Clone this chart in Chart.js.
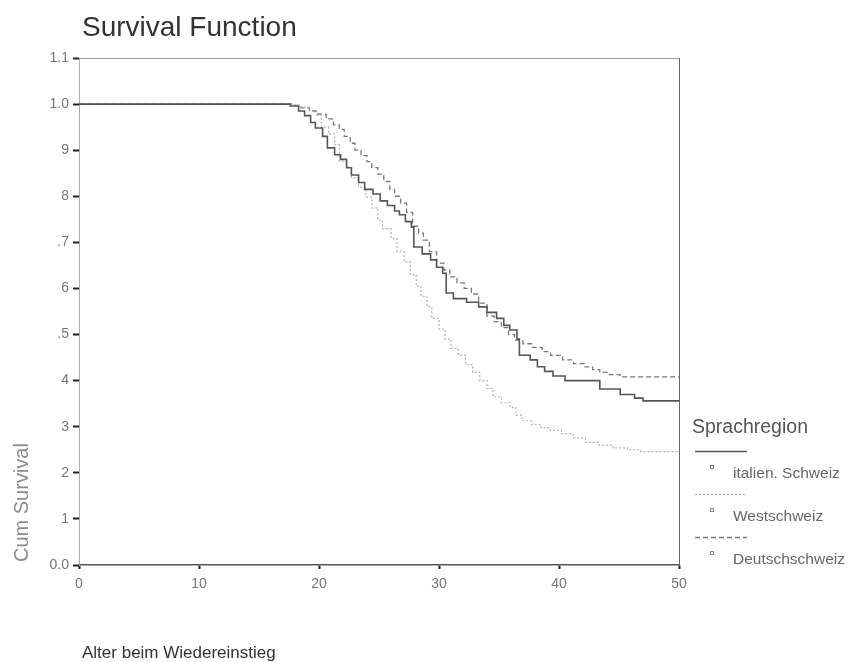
<!DOCTYPE html>
<html lang="de">
<head>
    <meta charset="UTF-8">
    <title>Survival Function</title>
    <style>
        body {
            margin: 0;
            padding: 0;
            background-color: #ffffff;
            font-family: "Liberation Sans", Arial, sans-serif;
        }
        #wrap {
            width: 850px;
            height: 662px;
        }
    </style>
    <script src="https://cdn.jsdelivr.net/npm/chart.js"></script>
</head>
<body>
    <div id="wrap">
        <canvas id="survivalChart" width="850" height="662"></canvas>
    </div>

    <script>
        // y tick labels as printed on the reference
        const yTickLabels = ['0.0', '1', '2', '3', '4', '.5', '6', '.7', '8', '9', '1.0', '1.1'];
        const xTickValues = [0, 10, 20, 30, 40, 50];

        // italien. Schweiz
        const italAge = [0, 17.6, 18.3, 18.8, 19.3, 19.7, 20.3, 20.7, 21.3, 21.8, 22.3, 22.7, 23.3, 23.8, 24.5, 25.1,
            25.7, 26.3, 26.7, 27.2, 27.7, 27.9, 28.6, 29.3, 29.8, 30.3, 30.6, 31.2, 32.3, 33.3, 34.0, 34.8, 35.4,
            35.9, 36.5, 36.7, 37.6, 38.2, 38.8, 39.5, 40.5, 43.4, 45.1, 46.3, 47.0, 50];
        const italSurv = [1.0, 0.996, 0.985, 0.975, 0.96, 0.948, 0.93, 0.905, 0.89, 0.88, 0.862, 0.846, 0.83, 0.815, 0.805, 0.79,
            0.78, 0.768, 0.76, 0.745, 0.733, 0.69, 0.675, 0.662, 0.646, 0.633, 0.59, 0.578, 0.57, 0.56, 0.548, 0.535, 0.52,
            0.51, 0.49, 0.455, 0.445, 0.43, 0.42, 0.41, 0.40, 0.382, 0.37, 0.362, 0.356, 0.356];

        // Westschweiz
        const westAge = [0, 17.8, 18.5, 19.2, 19.8, 20.2, 20.8, 21.3, 21.7, 22.3, 22.7, 23.3, 23.9, 24.4, 24.9, 25.3,
            26.0, 26.5, 27.1, 27.6, 28.1, 28.5, 29.0, 29.4, 30.0, 30.5, 31.0, 31.6, 32.2, 32.8, 33.4, 34.0, 34.5,
            35.2, 35.9, 36.4, 36.9, 37.7, 38.5, 39.3, 40.2, 41.2, 42.2, 43.3, 44.5, 45.7, 46.8, 50];
        const westSurv = [1.0, 0.998, 0.993, 0.985, 0.976, 0.95, 0.935, 0.912, 0.876, 0.863, 0.84, 0.82, 0.798, 0.775, 0.748, 0.73,
            0.708, 0.68, 0.658, 0.63, 0.605, 0.583, 0.56, 0.535, 0.512, 0.49, 0.47, 0.455, 0.435, 0.418, 0.40, 0.383, 0.365,
            0.352, 0.342, 0.325, 0.313, 0.305, 0.298, 0.292, 0.285, 0.276, 0.266, 0.26, 0.254, 0.25, 0.246, 0.246];

        // Deutschschweiz
        const deutAge = [0, 17.8, 18.5, 19.2, 19.9, 20.6, 21.2, 21.7, 22.1, 22.6, 23.0, 23.5, 24.0, 24.4, 24.9, 25.4,
            25.9, 26.3, 26.8, 27.3, 27.8, 28.3, 28.7, 29.2, 29.8, 30.4, 30.9, 31.5, 32.1, 32.7, 33.3, 34.0, 34.6,
            35.2, 35.8, 36.3, 37.0, 37.8, 38.6, 39.3, 40.3, 41.2, 42.1, 42.8, 43.4, 44.2, 45.1, 50];
        const deutSurv = [1.0, 0.997, 0.992, 0.985, 0.978, 0.968, 0.955, 0.945, 0.93, 0.915, 0.90, 0.888, 0.875, 0.862, 0.848, 0.832,
            0.815, 0.80, 0.785, 0.765, 0.735, 0.72, 0.705, 0.68, 0.655, 0.64, 0.625, 0.612, 0.60, 0.588, 0.568, 0.54, 0.528,
            0.515, 0.50, 0.488, 0.48, 0.472, 0.463, 0.455, 0.445, 0.437, 0.43, 0.424, 0.418, 0.413, 0.408, 0.408];

        function toPoints(xs, ys) {
            return xs.map((x, i) => ({ x: x, y: ys[i] }));
        }

        const FONT = '"Liberation Sans", Arial, sans-serif';

        const series = [
            { label: 'italien. Schweiz', color: '#555555', width: 1.6, dash: [] },
            { label: 'Westschweiz', color: '#b0b0b0', width: 1.2, dash: [2, 2] },
            { label: 'Deutschschweiz', color: '#7a7a7a', width: 1.3, dash: [5, 3] }
        ];

        // titles, frame and the right-hand legend
        const decorations = {
            id: 'decorations',
            afterDraw(chart) {
                const ctx = chart.ctx;
                const area = chart.chartArea;
                ctx.save();

                // frame top + right
                ctx.strokeStyle = '#999999';
                ctx.lineWidth = 1;
                ctx.beginPath();
                ctx.moveTo(area.left, area.top + 0.5);
                ctx.lineTo(area.right, area.top + 0.5);
                ctx.stroke();
                ctx.strokeStyle = '#666666';
                ctx.beginPath();
                ctx.moveTo(area.right + 0.5, area.top);
                ctx.lineTo(area.right + 0.5, area.bottom);
                ctx.stroke();

                // main title
                ctx.fillStyle = '#333333';
                ctx.font = '28px ' + FONT;
                ctx.textAlign = 'left';
                ctx.textBaseline = 'middle';
                ctx.fillText('Survival Function', 82, 28);

                // x axis title
                ctx.font = '17px ' + FONT;
                ctx.fillStyle = '#333333';
                ctx.fillText('Alter beim Wiedereinstieg', 82, 653);

                // y axis title (rotated, bottom aligned)
                ctx.save();
                ctx.translate(22, 562);
                ctx.rotate(-Math.PI / 2);
                ctx.font = '20px ' + FONT;
                ctx.fillStyle = '#8c8c8c';
                ctx.textAlign = 'left';
                ctx.fillText('Cum Survival', 0, 0);
                ctx.restore();

                // legend
                ctx.font = '19.5px ' + FONT;
                ctx.fillStyle = '#555555';
                ctx.fillText('Sprachregion', 692, 428);

                const rows = [451, 494, 537];
                series.forEach((s, i) => {
                    const y = rows[i];
                    ctx.strokeStyle = s.color;
                    ctx.lineWidth = s.width;
                    ctx.setLineDash(s.dash);
                    ctx.beginPath();
                    ctx.moveTo(695, y + 0.5);
                    ctx.lineTo(747, y + 0.5);
                    ctx.stroke();
                    ctx.setLineDash([]);

                    ctx.strokeStyle = '#888888';
                    ctx.lineWidth = 1;
                    ctx.strokeRect(710.5, y + 14.5, 3, 3);

                    ctx.font = '15.5px ' + FONT;
                    ctx.fillStyle = '#666666';
                    ctx.fillText(s.label, 733, y + 23);
                });

                ctx.restore();
            }
        };

        const ctx = document.getElementById('survivalChart').getContext('2d');
        new Chart(ctx, {
            type: 'line',
            data: {
                datasets: [
                    { label: series[0].label, data: toPoints(italAge, italSurv) },
                    { label: series[1].label, data: toPoints(westAge, westSurv) },
                    { label: series[2].label, data: toPoints(deutAge, deutSurv) }
                ].map((d, i) => Object.assign(d, {
                    borderColor: series[i].color,
                    borderWidth: series[i].width,
                    borderDash: series[i].dash,
                    stepped: true,
                    pointRadius: 0,
                    fill: false
                }))
            },
            options: {
                responsive: false,
                animation: false,
                layout: {
                    padding: { top: 58, right: 171, bottom: 0, left: 0 }
                },
                plugins: {
                    legend: { display: false },
                    tooltip: { enabled: false },
                    title: { display: false }
                },
                scales: {
                    x: {
                        type: 'linear',
                        min: 0,
                        max: 50,
                        afterFit(scale) { scale.height = 97; },
                        afterBuildTicks(scale) {
                            scale.ticks = xTickValues.map(v => ({ value: v }));
                        },
                        ticks: {
                            color: '#777777',
                            font: { size: 14, family: FONT },
                            padding: 7,
                            maxRotation: 0
                        },
                        grid: {
                            drawOnChartArea: false,
                            drawTicks: true,
                            tickLength: 4,
                            tickWidth: 2,
                            tickColor: '#222222'
                        },
                        border: { display: true, color: '#555555', width: 1.5 }
                    },
                    y: {
                        min: 0,
                        max: 1.1,
                        afterFit(scale) { scale.width = 79; },
                        afterBuildTicks(scale) {
                            scale.ticks = yTickLabels.map((t, i) => ({ value: i / 10 }));
                        },
                        ticks: {
                            color: '#777777',
                            font: { size: 14, family: FONT },
                            padding: 4,
                            callback: (v, i) => yTickLabels[i]
                        },
                        grid: {
                            drawOnChartArea: false,
                            drawTicks: true,
                            tickLength: 6,
                            tickWidth: 2,
                            tickColor: '#222222'
                        },
                        border: { display: true, color: '#aaaaaa', width: 1 }
                    }
                }
            },
            plugins: [decorations]
        });
    </script>
</body>
</html>
